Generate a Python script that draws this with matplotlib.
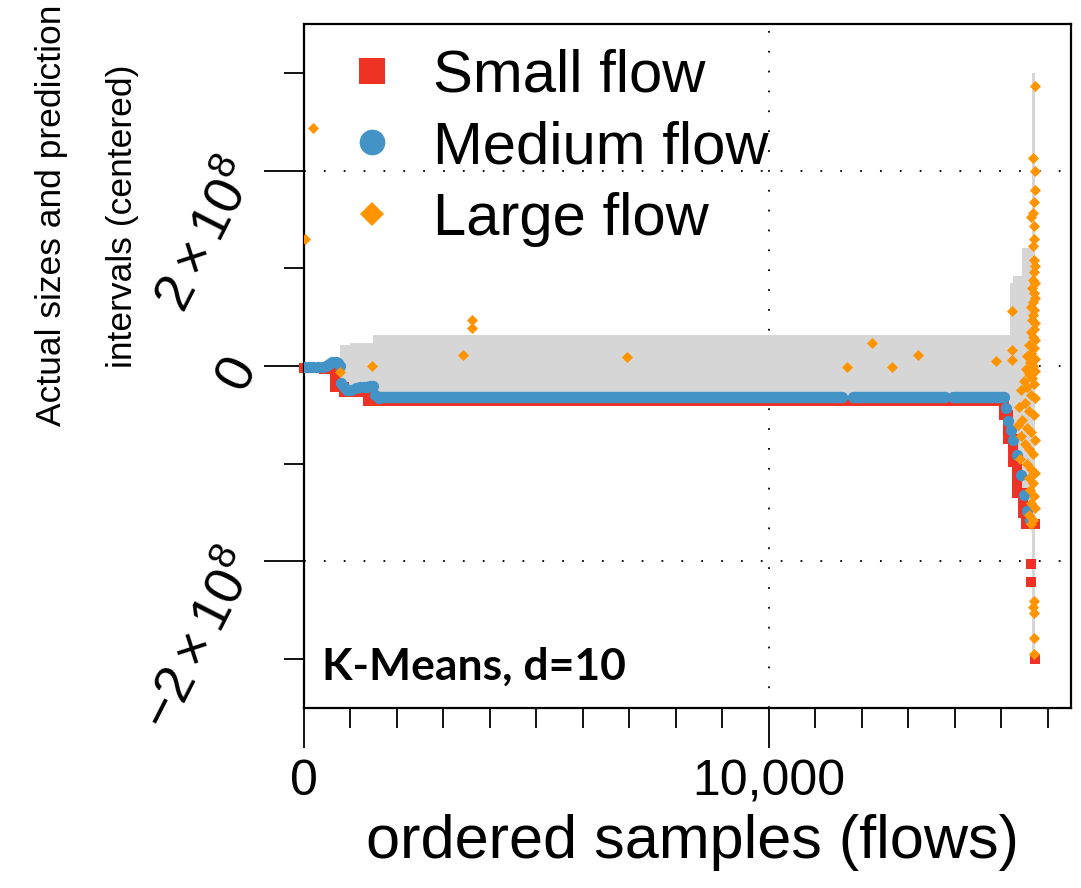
import numpy as np
import matplotlib
matplotlib.use("Agg")
import matplotlib.pyplot as plt
from matplotlib.lines import Line2D
from matplotlib.ticker import FixedLocator

plt.rcParams["font.family"] = ["Liberation Sans", "DejaVu Sans"]
plt.rcParams["mathtext.fontset"] = "custom"
plt.rcParams["mathtext.rm"] = "Liberation Sans"
plt.rcParams["mathtext.it"] = "Liberation Sans:italic"
plt.rcParams["mathtext.bf"] = "Liberation Sans:bold"

# ── data (sizes in units of 1e8) ─────────────────────────────────────────────
# prediction interval (gray band), step-post
pi_x  = [0, 785, 980, 1475, 15190, 15260, 15450, 15660, 15730]
pi_hi = [0.02, 0.21, 0.24, 0.32, 0.85, 0.92, 1.21, 3.00, 3.00]
pi_lo = [-0.03, -0.22, -0.30, -0.36, -0.60, -0.90, -1.65, -3.00, -3.00]

# small flows: step profile + isolated points
small_x = [0, 440, 660, 870, 1370, 15060, 15150, 15250, 15330, 15470, 15540, 15720]
small_y = [-0.02, -0.03, -0.22, -0.27, -0.36, -0.50, -0.75, -0.98, -1.30, -1.50, -1.62, -1.62]
small_pts_x = [0, 15640, 15640, 15720]
small_pts_y = [-0.02, -2.03, -2.21, -3.00]

# medium flows: individual points at the start / end, flat runs in between
medium_x = [0, 100, 200, 300, 400, 480, 540, 610, 680, 740, 770, 800, 850, 920,
            1020, 1110, 1200, 1280, 1350, 1420, 1475, 1520, 1620,
            15100, 15150, 15200, 15260, 15330, 15420, 15480, 15560, 15620]
medium_y = [-0.01, -0.01, -0.01, -0.01, -0.01, 0.0, 0.02, 0.04, 0.04, 0.03, 0.0, -0.17,
            -0.22, -0.25, -0.25, -0.23, -0.22, -0.22, -0.21, -0.20, -0.20, -0.30, -0.33,
            -0.43, -0.56, -0.66, -0.76, -0.91, -1.12, -1.32, -1.48, -1.58]
medium_run_start = [1620, 11810, 13960]
medium_run_end   = [11570, 13790, 15060]
medium_run_y     = [-0.32, -0.32, -0.32]

# large flows
large_x = [26, 183, 785, 1470, 3410, 3605, 3605, 6940, 11680, 12220, 12650, 13210,
           14880, 15230, 15230, 15230,
           15720, 15690, 15720, 15720, 15700, 15690, 15650, 15710, 15700, 15680,
           15710, 15720, 15700, 15680, 15720, 15660, 15700, 15730, 15690, 15650,
           15710, 15690, 15660, 15720, 15700, 15640, 15680, 15730, 15600, 15700,
           15650, 15560, 15720, 15620, 15680, 15540, 15730, 15600, 15660, 15480,
           15700, 15560, 15420, 15630, 15720, 15500, 15380, 15600, 15700, 15450,
           15350, 15550, 15650, 15420, 15720, 15500, 15600, 15680, 15400, 15550,
           15650, 15720, 15600, 15680, 15620, 15700, 15650, 15720, 15600, 15680,
           15650, 15700, 15690, 15700, 15710, 15700]
large_y = [1.30, 2.44, -0.06, -0.005, 0.11, 0.47, 0.39, 0.09, -0.015, 0.24, -0.015, 0.11,
           0.05, 0.56, 0.16, 0.06,
           2.87, 2.13, 2.00, 1.80, 1.68, 1.57, 1.52, 1.43, 1.30, 1.23,
           1.08, 1.02, 0.96, 0.88, 0.85, 0.80, 0.75, 0.70, 0.65, 0.60,
           0.57, 0.52, 0.47, 0.44, 0.38, 0.35, 0.30, 0.27, 0.22, 0.18,
           0.13, 0.10, 0.07, 0.04, 0.00, -0.03, -0.05, -0.08, -0.12, -0.15,
           -0.18, -0.22, -0.25, -0.30, -0.33, -0.38, -0.42, -0.46, -0.50, -0.55,
           -0.60, -0.63, -0.68, -0.72, -0.76, -0.80, -0.85, -0.90, -0.95, -1.00,
           -1.05, -1.10, -1.15, -1.20, -1.27, -1.33, -1.40, -1.45, -1.52, -1.58,
           -1.62, -2.40, -2.47, -2.53, -2.78, -2.95]

SCALE = 1e8
RED, BLUE, ORANGE, GRAY = "#EE3224", "#4493C6", "#FF9400", "#D6D6D6"

# ── figure ───────────────────────────────────────────────────────────────────
fig = plt.figure(figsize=(10.81, 8.88), dpi=100)
ax = fig.add_axes([304 / 1081, 1 - 708 / 888, 767 / 1081, 684 / 888])
ax.set_xlim(0, 16500)
ax.set_ylim(-3.5 * SCALE, 3.5 * SCALE)

# dotted grid at labelled ticks
dots = (0, (1, 10))
for yv in [-2, 0, 2]:
    ax.axhline(yv * SCALE, color="black", lw=1.3, ls=dots, zorder=0)
ax.axvline(10000, color="black", lw=1.3, ls=dots, zorder=0)

ax.fill_between(pi_x, np.array(pi_lo) * SCALE, np.array(pi_hi) * SCALE,
                step="post", color=GRAY, lw=0, zorder=1)

ax.step(small_x, np.array(small_y) * SCALE, where="post", color=RED,
        lw=7.2, solid_joinstyle="miter", zorder=2)
ax.scatter(small_pts_x, np.array(small_pts_y) * SCALE, marker="s", s=55,
           color=RED, lw=0, zorder=2, clip_on=False)

for x0, x1, yv in zip(medium_run_start, medium_run_end, medium_run_y):
    ax.plot([x0, x1], [yv * SCALE, yv * SCALE], color=BLUE, lw=8.2,
            solid_capstyle="round", zorder=3)
ax.scatter(medium_x, np.array(medium_y) * SCALE, marker="o", s=66,
           color=BLUE, lw=0, zorder=3)

ax.scatter(large_x, np.array(large_y) * SCALE, marker="D", s=32,
           color=ORANGE, lw=0, zorder=4)

# ── axes styling ─────────────────────────────────────────────────────────────
for sp in ax.spines.values():
    sp.set_linewidth(1.6)

ax.xaxis.set_major_locator(FixedLocator([0, 10000]))
ax.xaxis.set_minor_locator(FixedLocator(list(range(1000, 10000, 1000)) +
                                        list(range(11000, 17000, 1000))))
ax.set_xticklabels(["0", "10,000"])
ax.yaxis.set_major_locator(FixedLocator([-2 * SCALE, 0, 2 * SCALE]))
ax.yaxis.set_minor_locator(FixedLocator([-3 * SCALE, -SCALE, SCALE, 3 * SCALE]))
ax.set_yticklabels([r"$-2\times10^8$", "0", r"$2\times10^8$"])

ax.tick_params(which="major", direction="out", length=28.8, width=1.3)
ax.tick_params(which="minor", direction="out", length=14.4, width=1.3)
ax.tick_params(axis="x", which="major", labelsize=36, pad=8)
ax.tick_params(axis="y", which="major", labelsize=39, pad=5)
plt.setp(ax.get_yticklabels(), rotation=63, rotation_mode="anchor",
         ha="right", va="baseline")

ax.set_xlabel("ordered samples (flows)", fontsize=44)
ax.xaxis.set_label_coords(0.506, -0.22)
ax.xaxis.label.set_va("baseline")

# two-line y label, placed above the axis centre as in the original
ylab_lines = ["Actual sizes and prediction", "intervals (centered)"]
for xb, line in zip([0.056, 0.122], ylab_lines):
    fig.text(xb, 0.757, line, rotation=90, rotation_mode="anchor",
             ha="center", va="baseline", fontsize=25.5)

ax.text(0.023, 0.041, "K-Means, d=10", transform=ax.transAxes,
        fontsize=32, fontweight="bold", family=["Lato", "DejaVu Sans"],
        ha="left", va="baseline")

handles = [
    Line2D([], [], ls="", marker="s", ms=18.5, color=RED, mew=0),
    Line2D([], [], ls="", marker="o", ms=18.5, color=BLUE, mew=0),
    Line2D([], [], ls="", marker="D", ms=12.5, color=ORANGE, mew=0),
]
ax.legend(handles, ["Small flow", "Medium flow", "Large flow"],
          loc="upper left", bbox_to_anchor=(0.05, 0.964), frameon=False,
          fontsize=43, handlelength=1.0, handletextpad=0.52,
          labelspacing=0.28, borderpad=0, borderaxespad=0)

fig.savefig("out.png", dpi=100)
